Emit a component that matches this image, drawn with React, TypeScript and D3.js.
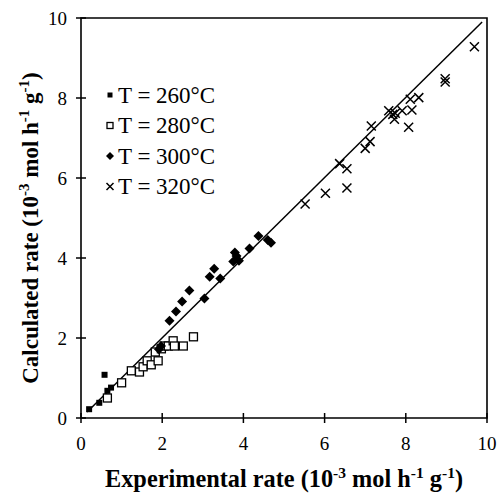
import React from "react";
import * as d3 from "d3";

const xTicks = [0, 2, 4, 6, 8, 10];
const yTicks = [0, 2, 4, 6, 8, 10];

const t260: [number, number][] = [
  [0.2, 0.22], [0.45, 0.38], [0.65, 0.68], [0.74, 0.76], [0.58, 1.08],
];
const t280: [number, number][] = [
  [0.65, 0.5], [1.0, 0.88], [1.24, 1.18], [1.44, 1.15], [1.53, 1.28],
  [1.63, 1.43], [1.73, 1.33], [1.83, 1.65], [1.9, 1.43], [1.98, 1.73],
  [2.05, 1.8], [2.15, 1.8], [2.27, 1.93], [2.3, 1.8], [2.52, 1.8], [2.77, 2.03],
];
const t300: [number, number][] = [
  [1.92, 1.72], [1.97, 1.8], [2.18, 2.43], [2.34, 2.66], [2.49, 2.91],
  [2.67, 3.19], [3.04, 2.99], [3.17, 3.53], [3.28, 3.73], [3.43, 3.49],
  [3.75, 3.91], [3.79, 4.14], [3.83, 4.05], [3.89, 3.93], [4.15, 4.24],
  [4.37, 4.55], [4.6, 4.45], [4.68, 4.38],
];
const t320: [number, number][] = [
  [5.52, 5.35], [6.02, 5.62], [6.37, 6.36], [6.55, 6.23], [6.55, 5.75],
  [7.0, 6.74], [7.12, 6.91], [7.15, 7.3], [7.58, 7.68], [7.68, 7.59],
  [7.72, 7.47], [7.74, 7.62], [7.91, 7.68], [8.07, 7.27], [8.15, 7.7],
  [8.11, 7.97], [8.32, 8.01], [8.97, 8.48], [8.97, 8.4], [9.69, 9.28],
];
const fitLine: [number, number][] = [[0.15, 0.15], [9.88, 9.9]];

const legendItems = ["T = 260°C", "T = 280°C", "T = 300°C", "T = 320°C"];

const FONT = "'Liberation Serif', 'Times New Roman', serif";

function Marker({ kind, x, y, s }: { kind: number; x: number; y: number; s: number }) {
  if (kind === 0) {
    return <rect x={x - s / 2} y={y - s / 2} width={s} height={s} fill="#000" />;
  }
  if (kind === 1) {
    return (
      <rect x={x - s / 2} y={y - s / 2} width={s} height={s} fill="#fff" stroke="#000" strokeWidth={1.3} />
    );
  }
  if (kind === 2) {
    const h = s / 2;
    return <path d={`M${x},${y - h}L${x + h},${y}L${x},${y + h}L${x - h},${y}Z`} fill="#000" />;
  }
  const h = s / 2;
  return (
    <path
      d={`M${x - h},${y - h}L${x + h},${y + h}M${x - h},${y + h}L${x + h},${y - h}`}
      stroke="#000"
      strokeWidth={1.5}
      fill="none"
    />
  );
}

export default function App() {
  const x = d3.scaleLinear().domain([0, 10]).range([81, 487]);
  const y = d3.scaleLinear().domain([0, 10]).range([418, 18]);
  const line = d3.line<[number, number]>().x((d) => x(d[0])).y((d) => y(d[1]));

  const series: { data: [number, number][]; kind: number; s: number }[] = [
    { data: t280, kind: 1, s: 8 },
    { data: t260, kind: 0, s: 6 },
    { data: t300, kind: 2, s: 10 },
    { data: t320, kind: 3, s: 9 },
  ];
  const legendSizes = [5, 6, 8, 7];

  return (
    <svg
      width={497}
      height={495}
      style={{ position: "absolute", left: 0, top: 0, background: "#fff" }}
      fontFamily={FONT}
    >
      <rect x={0} y={0} width={497} height={495} fill="#fff" />
      <path
        d={`M${x(0)},${y(0)}L${x(0)},${y(10)}L${x(10)},${y(10)}L${x(10)},${y(0)}Z`}
        fill="none"
        stroke="#000"
        strokeWidth={1.6}
      />
      {xTicks.map((t) => (
        <g key={"x" + t}>
          <line x1={x(t)} x2={x(t)} y1={y(0) - 5} y2={y(0) + 5} stroke="#000" strokeWidth={1.5} />
          <text x={x(t)} y={450} fontSize={19} textAnchor="middle">
            {t}
          </text>
        </g>
      ))}
      {yTicks.map((t) => (
        <g key={"y" + t}>
          <line x1={x(0) - 5} x2={x(0) + 5} y1={y(t)} y2={y(t)} stroke="#000" strokeWidth={1.5} />
          <text x={67} y={y(t) + 6.5} fontSize={19} textAnchor="end">
            {t}
          </text>
        </g>
      ))}
      <path d={line(fitLine) || ""} stroke="#000" strokeWidth={1.5} fill="none" />
      {series.map((sr, i) => (
        <g key={"s" + i}>
          {sr.data.map((d, j) => (
            <Marker key={j} kind={sr.kind} x={x(d[0])} y={y(d[1])} s={sr.s} />
          ))}
        </g>
      ))}
      {legendItems.map((lab, i) => (
        <g key={"l" + i}>
          <Marker kind={i} x={110} y={95 + i * 30.5} s={legendSizes[i]} />
          <text x={118} y={95 + i * 30.5 + 7.5} fontSize={23}>
            {lab}
          </text>
        </g>
      ))}
      <text x={284} y={487} fontSize={24.3} fontWeight="bold" textAnchor="middle">
        Experimental rate (10
        <tspan dy={-9} fontSize={15.5}>-3</tspan>
        <tspan dy={9}> mol h</tspan>
        <tspan dy={-9} fontSize={15.5}>-1</tspan>
        <tspan dy={9}> g</tspan>
        <tspan dy={-9} fontSize={15.5}>-1</tspan>
        <tspan dy={9}>)</tspan>
      </text>
      <text
        transform="translate(38,228) rotate(-90)"
        x={0}
        y={0}
        fontSize={23}
        fontWeight="bold"
        textAnchor="middle"
      >
        Calculated rate (10
        <tspan dy={-9} fontSize={15}>-3</tspan>
        <tspan dy={9}> mol h</tspan>
        <tspan dy={-9} fontSize={15}>-1</tspan>
        <tspan dy={9}> g</tspan>
        <tspan dy={-9} fontSize={15}>-1</tspan>
        <tspan dy={9}>)</tspan>
      </text>
    </svg>
  );
}
